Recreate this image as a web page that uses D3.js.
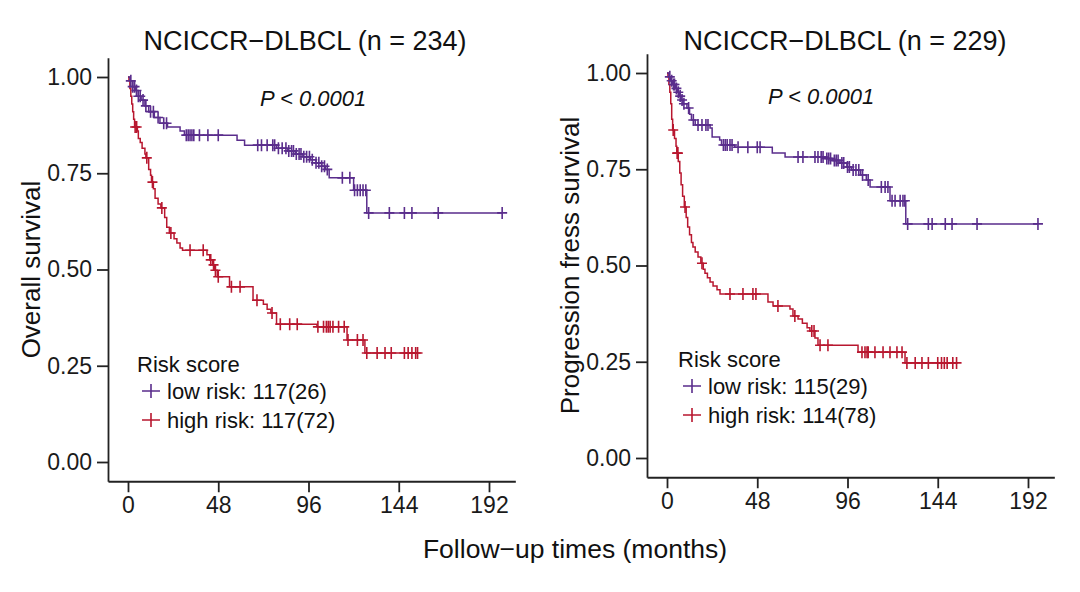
<!DOCTYPE html>
<html><head><meta charset="utf-8">
<script src="https://cdn.jsdelivr.net/npm/d3@7"></script>
<style>
html,body{margin:0;padding:0;background:#fff;}
svg{display:block;font-family:"Liberation Sans",Arial,sans-serif;}
</style></head>
<body><svg id="chart" width="1080" height="592"></svg>
<script>
// ---------------- DATA ----------------
const xTicks = [0, 48, 96, 144, 192];
const yTicks = [0, 0.25, 0.5, 0.75, 1];
const yTickLabels = ["0.00", "0.25", "0.50", "0.75", "1.00"];
const panelTitles = ["NCICCR\u2212DLBCL (n = 234)", "NCICCR\u2212DLBCL (n = 229)"];
const yTitles = ["Overall survival", "Progression fress survival"];
const xTitle = "Follow\u2212up times (months)";
const pText = "P < 0.0001";
const legendTitle = "Risk score";
const osLegend = ["low risk: 117(26)", "high risk: 117(72)"];
const pfsLegend = ["low risk: 115(29)", "high risk: 114(78)"];

// OS low risk
const osLowTimes = [1, 2.5, 4, 5.5, 7, 9, 11, 14, 17, 21, 27.7, 30, 58, 62, 79, 85, 89, 93, 97, 100, 103, 105, 107, 120, 127];
const osLowSurv  = [0.99, 0.975, 0.965, 0.95, 0.94, 0.925, 0.91, 0.895, 0.88, 0.87, 0.86, 0.849, 0.836, 0.823, 0.815, 0.808, 0.80, 0.793, 0.785, 0.777, 0.768, 0.76, 0.738, 0.706, 0.647];
const osLowCensor = [1.5, 2.5, 3.5, 4.5, 5.5, 6.5, 8, 9.5, 12, 13.5, 16, 19, 20.5, 31, 32, 33, 34, 35, 38, 42.5, 48, 69, 71, 74, 77, 78, 80, 82, 84, 85.5, 87, 88, 89.5, 91, 92, 93.5, 95, 96.5, 98, 100, 101.5, 103, 104.5, 106, 114, 118, 120.5, 122, 123.5, 125, 126.5, 128, 139, 147, 151, 165, 199];
// OS high risk
const osHighTimes = [0.5, 1, 1.5, 2, 2.5, 3, 3.5, 5, 5.5, 6.5, 7.5, 9, 9.5, 11, 12, 12.5, 13.5, 14.4, 16, 17.5, 19.5, 20.6, 22, 24.5, 26, 27.7, 29, 42, 43.5, 45, 46, 47.5, 54, 66.5, 72, 74, 76, 79, 100.5, 116.5, 126];
const osHighSurv  = [0.99, 0.97, 0.95, 0.93, 0.91, 0.89, 0.87, 0.86, 0.84, 0.83, 0.815, 0.80, 0.79, 0.76, 0.745, 0.727, 0.71, 0.685, 0.67, 0.66, 0.635, 0.61, 0.595, 0.58, 0.569, 0.556, 0.55, 0.538, 0.525, 0.512, 0.498, 0.481, 0.455, 0.42, 0.41, 0.397, 0.387, 0.358, 0.351, 0.317, 0.283];
const osHighCensor = [3.8, 4.6, 10, 13, 18, 22.8, 33, 40, 44, 45.5, 46.5, 48, 55, 59.6, 68.6, 76.6, 81, 86, 90, 101, 104, 105.5, 106.5, 107.5, 109, 112, 115, 117, 122, 125, 127, 132.5, 136.7, 140, 147, 149, 151, 153, 154];
// PFS low risk
const pfsLowTimes = [1, 2, 3, 4.5, 5.5, 6.5, 7.5, 8.5, 10.6, 12, 13, 15, 22.9, 24, 28, 29, 36, 56, 62.8, 84, 88, 92, 95.7, 98, 103, 106, 108, 118.6, 127];
const pfsLowSurv  = [0.99, 0.98, 0.97, 0.96, 0.95, 0.94, 0.93, 0.92, 0.909, 0.893, 0.878, 0.865, 0.857, 0.834, 0.826, 0.813, 0.807, 0.792, 0.782, 0.778, 0.773, 0.766, 0.756, 0.748, 0.735, 0.722, 0.704, 0.668, 0.608];
const pfsLowCensor = [1.5, 2.5, 3.5, 4, 5, 6, 7, 8, 9, 11.5, 14, 16.5, 18.6, 20.7, 21.8, 30, 31, 32, 33.5, 34.6, 37.8, 43, 48, 49.5, 69.7, 72.3, 78.7, 80.3, 82, 83, 85, 86, 87, 89, 90, 91, 93, 94, 96, 97, 99, 100.5, 102, 104, 107, 114, 116, 117.5, 119.7, 121.3, 124, 125.5, 126.5, 128, 139, 141, 148, 151.6, 164.9, 197.3];
// PFS high risk
const pfsHighTimes = [0.5, 1, 1.5, 2, 2.5, 3, 4, 4.8, 5.2, 6, 6.8, 7.5, 8.3, 9.2, 10.2, 11, 12, 13, 13.8, 15, 16.5, 18, 19.3, 20.2, 21.5, 22.9, 24.5, 26.6, 28.2, 53.7, 56.4, 65.4, 67, 69.7, 72, 74.5, 76, 78.7, 80.3, 101.6, 126.6];
const pfsHighSurv  = [0.99, 0.97, 0.95, 0.92, 0.88, 0.852, 0.83, 0.81, 0.792, 0.77, 0.74, 0.71, 0.68, 0.652, 0.625, 0.6, 0.58, 0.56, 0.548, 0.535, 0.522, 0.506, 0.49, 0.48, 0.468, 0.457, 0.447, 0.437, 0.426, 0.405, 0.395, 0.387, 0.369, 0.361, 0.35, 0.338, 0.33, 0.312, 0.293, 0.275, 0.247];
const pfsHighCensor = [3.3, 5.4, 5.8, 9.6, 18.6, 33.5, 40.4, 45.7, 47.3, 59, 68, 77, 78.2, 81.4, 85.6, 103.7, 105.3, 106.4, 107, 110.6, 114.9, 118.6, 122.3, 125, 127.6, 132, 135.6, 139, 144, 146, 147.5, 149, 152, 154];

const colLow = "#5a2d8c";
const colHigh = "#b8172f";

// ---------------- DRAW ----------------
const svg = d3.select("#chart");
const axisCol = "#222";
const pxPerMonth = 90.25 / 48;

function panel(opt) {
  const g = svg.append("g");
  const xMin = -10.64, xMax = 206;
  const x = d3.scaleLinear().domain([xMin, xMax]).range([opt.x0 + xMin * pxPerMonth, opt.x0 + xMax * pxPerMonth]);
  const y = d3.scaleLinear().domain([-0.05, 1.05]).range([opt.y0 + 19.25, opt.y0 - 404.25]);

  // axes
  const ax = g.append("g").attr("transform", `translate(0,${y(-0.05)})`)
    .call(d3.axisBottom(x).tickValues(xTicks).tickSize(11).tickSizeOuter(0).tickPadding(4));
  const ay = g.append("g").attr("transform", `translate(${x(xMin)},0)`)
    .call(d3.axisLeft(y).tickValues(yTicks).tickFormat((d, i) => yTickLabels[i]).tickSize(11).tickSizeOuter(0).tickPadding(5));
  [ax, ay].forEach(a => {
    a.selectAll("path.domain").attr("stroke", axisCol).attr("stroke-width", 1.8);
    a.selectAll(".tick line").attr("stroke", axisCol).attr("stroke-width", 1.8);
    a.selectAll(".tick text").attr("fill", "#1a1a1a").style("font-size", "23px")
      .style("font-family", '"Liberation Sans", Arial, sans-serif');
  });

  // title
  g.append("text").attr("x", opt.titleX).attr("y", 50).attr("text-anchor", "middle")
    .style("font-size", "27px").attr("fill", "#111").text(opt.title);
  // y title
  g.append("text").attr("transform", `translate(${opt.yLabX},${y(0.5)}) rotate(-90)`)
    .attr("text-anchor", "middle").attr("dominant-baseline", "central")
    .style("font-size", "26px").attr("fill", "#111").text(opt.yTitle);
  // p value
  g.append("text").attr("x", opt.pX).attr("y", opt.pY)
    .style("font-size", "22px").style("font-style", "italic").attr("fill", "#111").text(pText);

  const line = d3.line().x(d => x(d[0])).y(d => y(d[1])).curve(d3.curveStepAfter);
  function stepAt(times, surv, t) {
    let s = 1;
    for (let i = 0; i < times.length; i++) { if (times[i] <= t) s = surv[i]; }
    return s;
  }
  function curve(times, surv, cens, col) {
    const end = Math.max(d3.max(times), d3.max(cens));
    const pts = [[0, 1]].concat(times.map((t, i) => [t, surv[i]]));
    pts.push([end, surv[surv.length - 1]]);
    g.append("path").attr("d", line(pts)).attr("fill", "none")
      .attr("stroke", col).attr("stroke-width", 1.5);
    g.append("g").selectAll("path").data(cens).join("path")
      .attr("d", t => {
        const cx = x(t), cy = y(stepAt(times, surv, t));
        return `M${cx - 5},${cy}h10M${cx},${cy - 6}v12`;
      })
      .attr("stroke", col).attr("stroke-width", 1.6).attr("fill", "none");
  }
  curve(opt.highT, opt.highS, opt.highC, colHigh);
  curve(opt.lowT, opt.lowS, opt.lowC, colLow);

  // legend
  const lg = g.append("g");
  lg.append("text").attr("x", opt.legX).attr("y", opt.legY).style("font-size", "22px").attr("fill", "#111").text(legendTitle);
  [colLow, colHigh].forEach((c, i) => {
    const yy = opt.legY + 27 + i * 29;
    lg.append("path").attr("d", `M${opt.legX + 5},${yy - 8}h18M${opt.legX + 14},${yy - 15}v14`)
      .attr("stroke", c).attr("stroke-width", 1.6);
    lg.append("text").attr("x", opt.legX + 30).attr("y", yy).style("font-size", "22px")
      .attr("fill", "#111").text(opt.legend[i]);
  });
}

panel({x0: 128, y0: 462, title: panelTitles[0], titleX: 305, yTitle: yTitles[0], yLabX: 31,
  pX: 260, pY: 106, legX: 137, legY: 372, legend: osLegend,
  lowT: osLowTimes, lowS: osLowSurv, lowC: osLowCensor,
  highT: osHighTimes, highS: osHighSurv, highC: osHighCensor});
panel({x0: 667, y0: 458, title: panelTitles[1], titleX: 845, yTitle: yTitles[1], yLabX: 570,
  pX: 768, pY: 104, legX: 678, legY: 367, legend: pfsLegend,
  lowT: pfsLowTimes, lowS: pfsLowSurv, lowC: pfsLowCensor,
  highT: pfsHighTimes, highS: pfsHighSurv, highC: pfsHighCensor});

svg.append("text").attr("x", 575).attr("y", 558).attr("text-anchor", "middle")
  .style("font-size", "26.5px").attr("fill", "#111").text(xTitle);
</script></body></html>
